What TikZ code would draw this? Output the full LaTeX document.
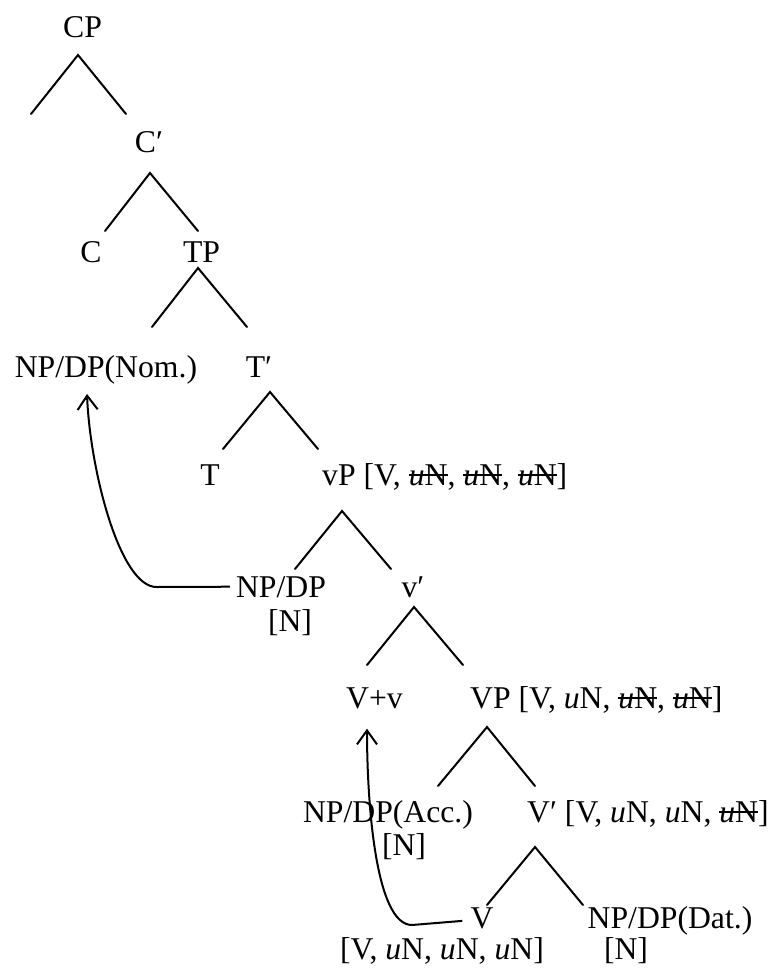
\documentclass[tikz,border=0pt]{standalone}
\usepackage{fontspec}
\setmainfont{Liberation Serif}
\usetikzlibrary{arrows.meta}
\newcommand{\un}{\textit{u}N}
\newcommand{\xun}{\setbox0\hbox{\textit{u}N}\rlap{\raisebox{0.29em}{\rule{\wd0}{0.065em}}}\box0}
\begin{document}
\begin{tikzpicture}[x=1pt,y=-1pt,
  lab/.style={anchor=base,inner sep=0pt,font=\fontsize{31.7}{38}\selectfont},
  labw/.style={lab,anchor=base west},
  br/.style={line width=2pt,line cap=round},
  mv/.style={line width=2pt,-{Straight Barb[length=14pt,width=20pt,line width=2pt]}}]
\useasboundingbox (0,0) rectangle (773,971);
% labels
\node[lab] (cp) at (82.5,38) {CP};
\node[lab] (cbar) at (149,152) {C′};
\node[lab] (c) at (91,262) {C};
\node[lab] (tp) at (201.5,262) {TP};
\node[lab] (nom) at (106,377) {NP/DP(Nom.)};
\node[lab] (tbar) at (259,377) {T′};
\node[lab] (t) at (210,485) {T};
\node[labw] (vp) at (322,485) {vP [V, \xun, \xun, \xun]};
\node[lab] (spec) at (281,597) {NP/DP};
\node[lab] (specf) at (290,631) {[N]};
\node[lab] (vbar) at (413,597) {v′};
\node[lab] (vv) at (374.5,708) {V+v};
\node[labw] (VP) at (470,708) {VP [V, \un, \xun, \xun]};
\node[lab] (acc) at (388,822) {NP/DP(Acc.)};
\node[lab] (accf) at (404,855) {[N]};
\node[labw] (Vbar) at (527,822) {V′ [V, \un, \un, \xun]};
\node[lab] (V) at (482,928) {V};
\node[lab] (Vf) at (442,959) {[V, \un, \un, \un]};
\node[lab] (dat) at (670,928) {NP/DP(Dat.)};
\node[lab] (datf) at (626,959) {[N]};
% branch points
\coordinate (b1a) at (78,55);   \coordinate (b1l) at (31,114);  \coordinate (b1r) at (126,114);
\coordinate (b2a) at (150,173); \coordinate (b2l) at (105,231); \coordinate (b2r) at (198,231);
\coordinate (b3a) at (198,268); \coordinate (b3l) at (152,327); \coordinate (b3r) at (247,327);
\coordinate (b4a) at (270,392); \coordinate (b4l) at (223,449); \coordinate (b4r) at (318,449);
\coordinate (b5a) at (342,511); \coordinate (b5l) at (295,569); \coordinate (b5r) at (391,569);
\coordinate (b6a) at (414,607); \coordinate (b6l) at (367,665); \coordinate (b6r) at (463,665);
\coordinate (b7a) at (487,727); \coordinate (b7l) at (438,786); \coordinate (b7r) at (535,786);
\coordinate (b8a) at (535,847); \coordinate (b8l) at (487,905); \coordinate (b8r) at (583,905);
\foreach \i in {1,...,8}{\draw[br] (b\i l) -- (b\i a) -- (b\i r);}
% movement arrows
\draw[mv] ([xshift=-6pt]spec.west) -- (157,587) .. controls (120,588) and (90,470) .. ([xshift=-19pt,yshift=-10pt]nom.south);
\draw[mv] ([xshift=-8pt,yshift=-3pt]V.west) -- (412,925) .. controls (375,925) and (367,800) .. ([xshift=-7.5pt,yshift=-20pt]vv.south);
\end{tikzpicture}
\end{document}
